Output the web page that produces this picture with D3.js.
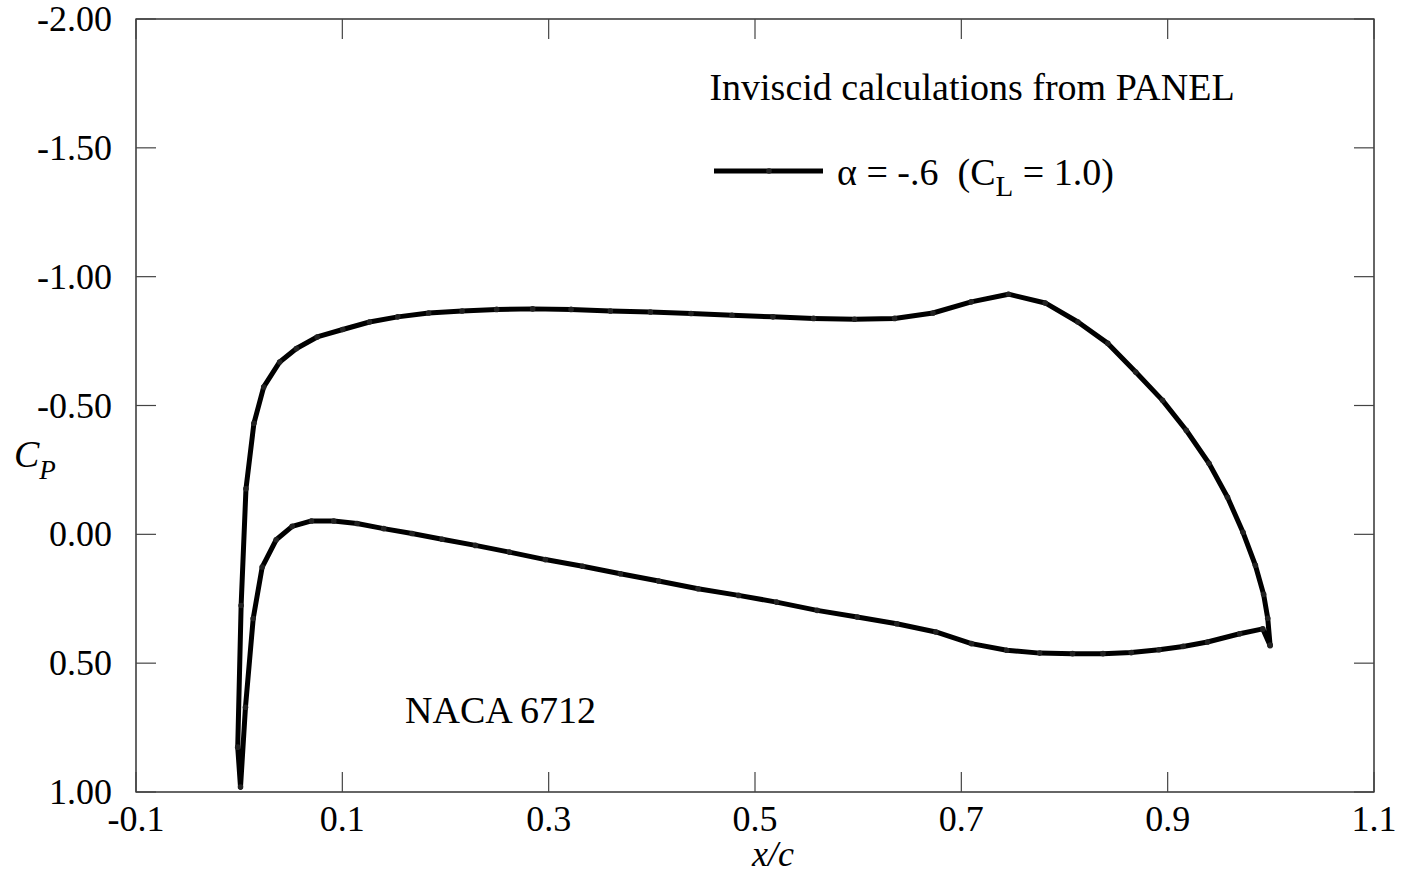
<!DOCTYPE html>
<html>
<head>
<meta charset="utf-8">
<script src="https://cdn.jsdelivr.net/npm/d3@7"></script>
<style>
  html, body { margin: 0; padding: 0; background: #fff; }
  svg { display: block; }
  text { font-family: "Liberation Serif", "Times New Roman", Times, serif; fill: #000; }
</style>
</head>
<body>
<script>
// NACA 6712, inviscid pressure distribution from PANEL, alpha = -0.6 deg
// Upper surface, leading edge -> trailing edge
const upperX  = [-0.0014, 0.0019, 0.0066, 0.0143, 0.0238, 0.0393, 0.0555, 0.0756, 0.1004, 0.1263,
                 0.1537, 0.1837, 0.2161, 0.2496, 0.2845, 0.3217, 0.3598, 0.3986, 0.4380, 0.4777,
                 0.5174, 0.5568, 0.5965, 0.6353, 0.6725, 0.7096, 0.7457, 0.7813, 0.8130, 0.8420,
                 0.8690, 0.8950, 0.9180, 0.9400, 0.9580, 0.9730, 0.9850, 0.9930, 0.9970, 0.9993];
const upperCp = [0.826, 0.276, -0.177, -0.431, -0.572, -0.669, -0.721, -0.766, -0.795, -0.824,
                 -0.844, -0.859, -0.867, -0.873, -0.875, -0.873, -0.867, -0.863, -0.857, -0.850,
                 -0.844, -0.838, -0.835, -0.838, -0.859, -0.902, -0.932, -0.898, -0.824, -0.741,
                 -0.630, -0.520, -0.404, -0.276, -0.144, -0.008, 0.120, 0.233, 0.326, 0.431];
// Lower surface, leading edge (stagnation) -> trailing edge
const lowerX  = [0.0013, 0.0061, 0.0136, 0.0223, 0.0359, 0.0514, 0.0701, 0.0917, 0.1143, 0.1401,
                 0.1676, 0.1967, 0.2290, 0.2619, 0.2968, 0.3329, 0.3695, 0.4066, 0.4448, 0.4841,
                 0.5209, 0.5602, 0.5991, 0.6374, 0.6753, 0.7098, 0.7440, 0.7759, 0.8078, 0.8373,
                 0.8647, 0.8916, 0.9150, 0.9386, 0.9698, 0.9922, 0.9993];
const lowerCp = [0.981, 0.671, 0.327, 0.127, 0.021, -0.031, -0.052, -0.052, -0.042, -0.022,
                 -0.003, 0.019, 0.043, 0.069, 0.098, 0.124, 0.153, 0.181, 0.211, 0.237,
                 0.263, 0.295, 0.321, 0.347, 0.379, 0.424, 0.450, 0.461, 0.463, 0.463,
                 0.459, 0.448, 0.435, 0.418, 0.386, 0.367, 0.431];

const xTicks = [-0.1, 0.1, 0.3, 0.5, 0.7, 0.9, 1.1];
const yTicks = [-2.0, -1.5, -1.0, -0.5, 0.0, 0.5, 1.0];

const titleText  = "Inviscid calculations from PANEL";
const airfoilText = "NACA 6712";

const W = 1405, H = 887;
const margin = { left: 136, right: 31, top: 19, bottom: 95 };
const FS = 36;     // tick labels
const FS2 = 38;    // annotations

const svg = d3.select("body").append("svg").attr("width", W).attr("height", H);

const x = d3.scaleLinear().domain([-0.1, 1.1]).range([margin.left, W - margin.right]);
const y = d3.scaleLinear().domain([-2.0, 1.0]).range([margin.top, H - margin.bottom]);

const [x0, x1] = x.range();
const [y0, y1] = y.range();
const tickLen = 20;

// hyphen-minus, as in the printed labels
const fmt = p => d => d3.format(p)(d).replace("\u2212", "-");

// Frame
svg.append("rect")
  .attr("x", x0).attr("y", y0).attr("width", x1 - x0).attr("height", y1 - y0)
  .attr("fill", "none").attr("stroke", "#000").attr("stroke-width", 1.2);

// Inward ticks on all four sides
const tickG = svg.append("g").attr("stroke", "#444").attr("stroke-width", 1.2);
xTicks.forEach(t => {
  tickG.append("line").attr("x1", x(t)).attr("x2", x(t)).attr("y1", y1).attr("y2", y1 - tickLen);
  tickG.append("line").attr("x1", x(t)).attr("x2", x(t)).attr("y1", y0).attr("y2", y0 + tickLen);
});
yTicks.forEach(t => {
  tickG.append("line").attr("x1", x0).attr("x2", x0 + tickLen).attr("y1", y(t)).attr("y2", y(t));
  tickG.append("line").attr("x1", x1).attr("x2", x1 - tickLen).attr("y1", y(t)).attr("y2", y(t));
});

// Tick labels
svg.append("g").selectAll("text").data(xTicks).join("text")
  .attr("x", d => x(d)).attr("y", y1 + 39)
  .attr("text-anchor", "middle").attr("font-size", FS)
  .text(fmt(".1f"));

svg.append("g").selectAll("text").data(yTicks).join("text")
  .attr("x", x0 - 24).attr("y", d => y(d) + 12)
  .attr("text-anchor", "end").attr("font-size", FS)
  .text(fmt(".2f"));

// Axis titles
svg.append("text").attr("x", (x0 + x1) / 2 + 18).attr("y", 866)
  .attr("text-anchor", "middle").attr("font-size", FS).attr("font-style", "italic")
  .text("x/c");

const yl = svg.append("text").attr("x", 14).attr("y", 467).attr("font-size", FS2).attr("font-style", "italic");
yl.append("tspan").text("C");
yl.append("tspan").attr("dy", 12).attr("font-size", 27).text("P");

// Cp curve: upper surface from trailing edge to leading edge, then lower surface back to TE
const upperPts = upperX.map((v, i) => [v, upperCp[i]]);
const lowerPts = lowerX.map((v, i) => [v, lowerCp[i]]);
const allPts = upperPts.slice().reverse().concat(lowerPts);

const line = d3.line().x(d => x(d[0])).y(d => y(d[1]));

svg.append("path").datum(allPts)
  .attr("d", line)
  .attr("fill", "none").attr("stroke", "#000").attr("stroke-width", 5)
  .attr("stroke-linejoin", "round");

svg.append("g").selectAll("circle").data(allPts).join("circle")
  .attr("cx", d => x(d[0])).attr("cy", d => y(d[1])).attr("r", 2.8)
  .attr("fill", "#222");

// Title and legend
svg.append("text").attr("x", 972).attr("y", 100)
  .attr("text-anchor", "middle").attr("font-size", FS2).text(titleText);

svg.append("line").attr("x1", 714).attr("x2", 823).attr("y1", 171).attr("y2", 171)
  .attr("stroke", "#000").attr("stroke-width", 5);
svg.append("circle").attr("cx", 769).attr("cy", 171).attr("r", 2.8).attr("fill", "#222");

const lg = svg.append("text").attr("x", 837).attr("y", 185).attr("font-size", FS2)
  .attr("xml:space", "preserve");
lg.append("tspan").text("\u03B1 = -.6  (C");
lg.append("tspan").attr("dy", 11).attr("font-size", 29).text("L");
lg.append("tspan").attr("dy", -11).text(" = 1.0)");

svg.append("text").attr("x", 405).attr("y", 723).attr("font-size", FS2).text(airfoilText);
</script>
</body>
</html>
